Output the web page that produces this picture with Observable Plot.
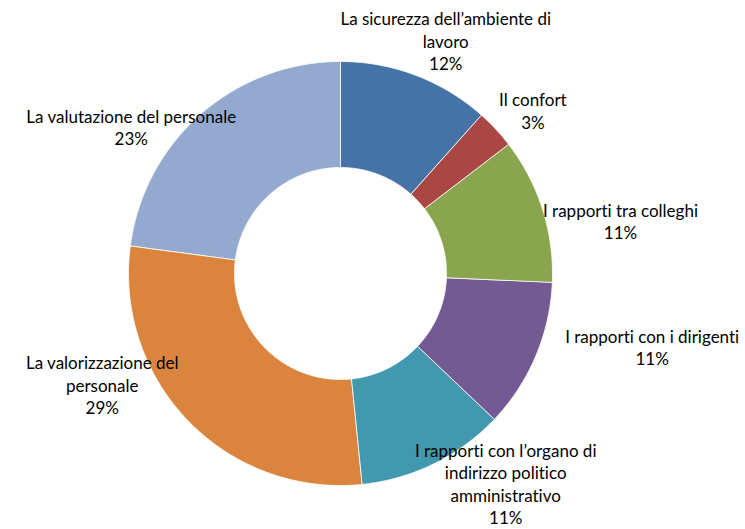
<!DOCTYPE html>
<html><head><meta charset="utf-8">
<script src="https://cdn.jsdelivr.net/npm/d3@7"></script>
<script src="https://cdn.jsdelivr.net/npm/@observablehq/plot@0.6"></script>
<style>body{margin:0;background:#fff;overflow:hidden} svg text{font-variant-ligatures:none}</style>
</head><body><div id="chart"></div>
<script>
const categories = [
  "La sicurezza dell’ambiente di\nlavoro",
  "Il confort",
  "I rapporti tra colleghi",
  "I rapporti con i dirigenti",
  "I rapporti con l’organo di\nindirizzo politico\namministrativo",
  "La valorizzazione del\npersonale",
  "La valutazione del personale"
];
const shares = [11.6, 3.0, 11.1, 11.4, 11.3, 28.7, 22.9];
const colors = ["#4572A7", "#AA4643", "#89A54E", "#735A92", "#4198AF", "#DB843D", "#93A9CF"];
// label layout: polar position (degrees clockwise from top, radius in outer-radius units)
const labelAngles = [24.3, 49.7, 79.3, 103.2, 141.8, 245, 305];
const labelRadii = [1.206, 1.19, 1.344, 1.51, 1.26, 1.24, 1.205];

const inner = 0.5, outer = 1;
const arcs = d3.pie().sort(null).value(d => d)(shares);
const pts = [];
arcs.forEach((p, i) => {
  const n = Math.max(10, Math.ceil((p.endAngle - p.startAngle) * 80));
  for (let k = 0; k <= n; k++) {
    const a = p.startAngle + (p.endAngle - p.startAngle) * k / n;
    pts.push({i, x: outer * Math.sin(a), y: outer * Math.cos(a)});
  }
  for (let k = n; k >= 0; k--) {
    const a = p.startAngle + (p.endAngle - p.startAngle) * k / n;
    pts.push({i, x: inner * Math.sin(a), y: inner * Math.cos(a)});
  }
});
const labels = categories.map((c, i) => {
  const a = labelAngles[i] * Math.PI / 180;
  return {text: c + "\n" + Math.round(shares[i]) + "%", x: labelRadii[i] * Math.sin(a), y: labelRadii[i] * Math.cos(a)};
});

const chart = Plot.plot({
  width: 745, height: 529,
  margin: 0,
  x: {domain: [-1, 1], range: [128, 552], axis: null},
  y: {domain: [-1, 1], range: [485, 61], axis: null},
  color: {type: "ordinal", domain: d3.range(colors.length), range: colors},
  style: {fontFamily: "Lato, sans-serif", background: "#fff"},
  marks: [
    Plot.line(pts, {x: "x", y: "y", z: "i", fill: "i", stroke: "#ffffff", strokeWidth: 0.8, curve: "linear-closed"}),
    Plot.text(labels, {x: "x", y: "y", text: "text", fontSize: 17, lineHeight: 1.32, fill: "#000", textAnchor: "middle"})
  ]
});
document.getElementById("chart").appendChild(chart);
</script>
</body></html>
